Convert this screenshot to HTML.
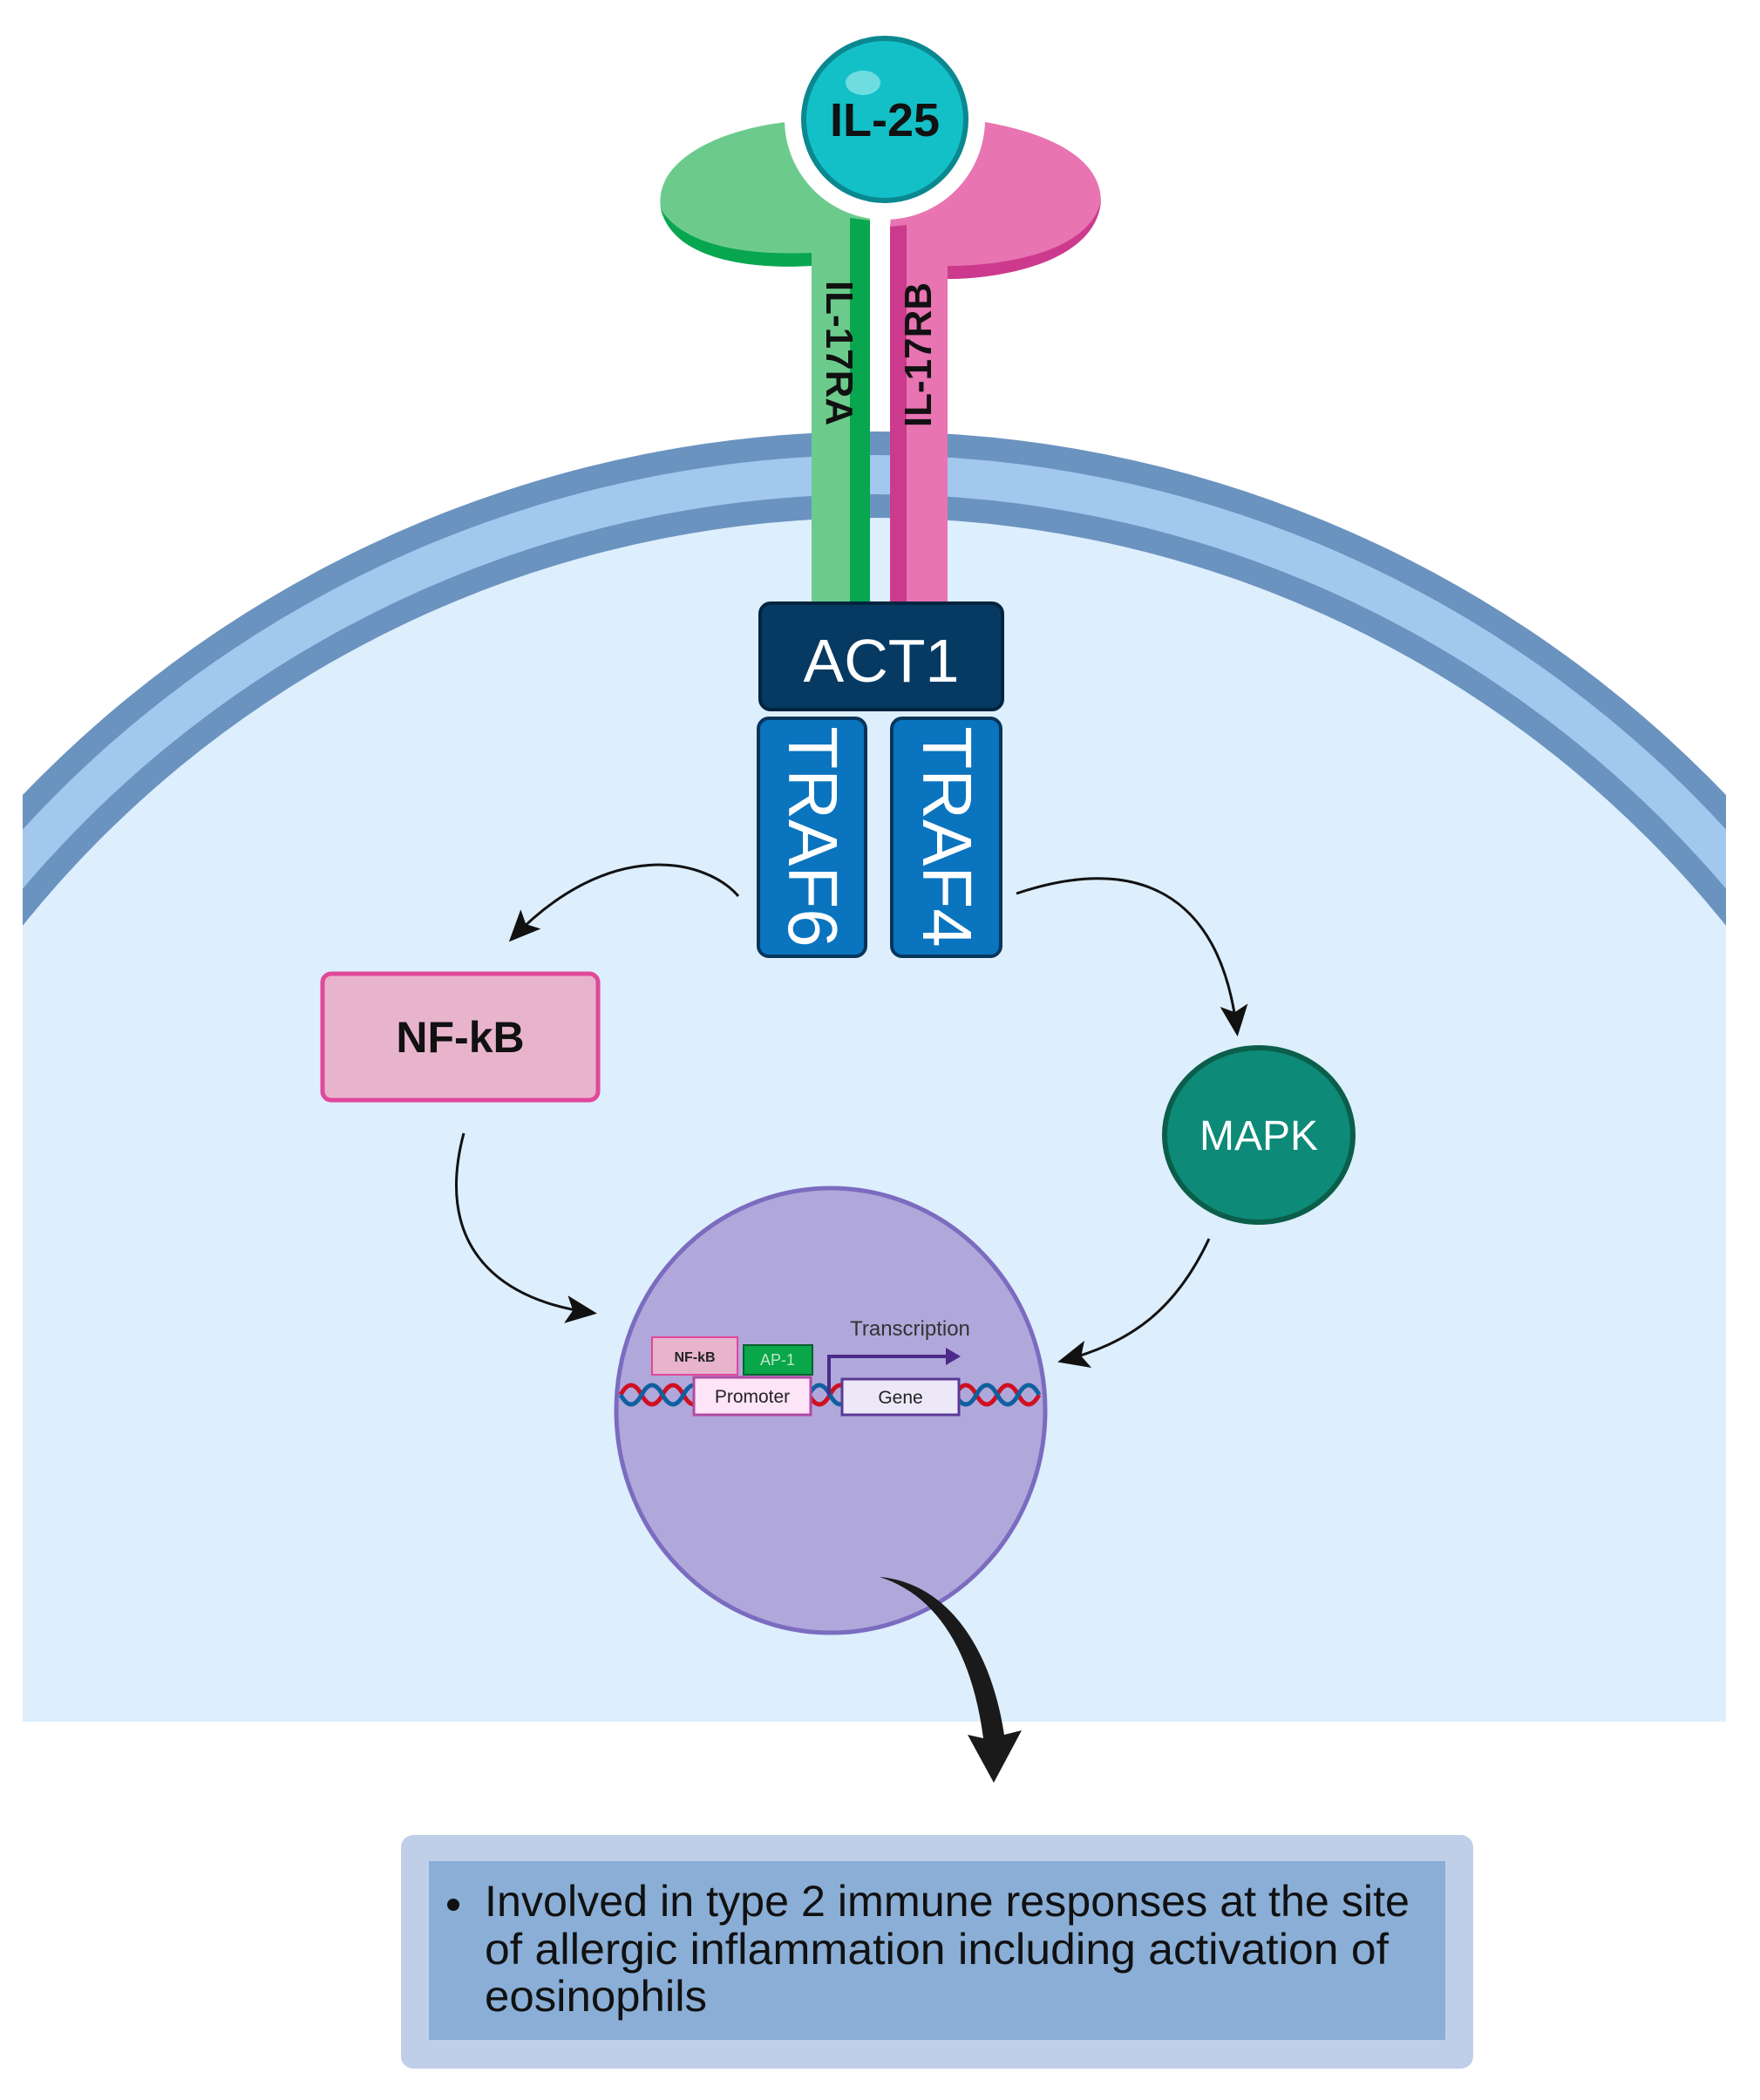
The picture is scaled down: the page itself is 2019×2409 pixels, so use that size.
<!DOCTYPE html>
<html><head><meta charset="utf-8"><style>html,body{margin:0;padding:0;background:#fff;width:2019px;height:2409px;overflow:hidden}svg{display:block}</style></head>
<body>
<svg width="2019" height="2409" viewBox="0 0 2019 2409" xmlns="http://www.w3.org/2000/svg" font-family="'Liberation Sans', sans-serif">
<defs>
<clipPath id="cell"><rect x="26" y="0" width="1954" height="1975"/></clipPath>
<marker id="ah" markerWidth="40" markerHeight="32" refX="30" refY="16" orient="auto" markerUnits="userSpaceOnUse" viewBox="0 0 40 32"><path d="M0,0 L36,16 L0,32 L8,16 Z" fill="#111"/></marker>
</defs>
<rect width="2019" height="2409" fill="#fff"/>
<g clip-path="url(#cell)">
<circle cx="1003" cy="1848" r="1353" fill="#6b93c0"/>
<circle cx="1003" cy="1848" r="1326" fill="#a3c8ee"/>
<circle cx="1003" cy="1848" r="1281" fill="#6b93c0"/>
<circle cx="1003" cy="1848" r="1254" fill="#ddeefc"/>
<rect x="26" y="1300" width="1974" height="700" fill="#ddeefc"/>
</g>
<!-- receptors -->
<path d="M931,690 L931,305 C880,308 775,305 758,240 C748,175 850,140 930,138 L990,140 L998,253 L998,690 Z" fill="#6ccb8c"/>
<path d="M975,250 L998,253 L998,690 L975,690 Z" fill="#09a650"/>
<path d="M758,240 C775,305 880,308 931,305 L931,290 C880,292 790,290 758,240 Z" fill="#09a650"/>
<path d="M1087,690 L1087,320 C1150,320 1258,300 1263,230 C1262,165 1160,142 1100,136 L1030,140 L1021,260 L1021,690 Z" fill="#e874b2"/>
<path d="M1021,260 L1040,258 L1040,690 L1021,690 Z" fill="#cc3a8e"/>
<path d="M1263,230 C1258,300 1150,320 1087,320 L1087,305 C1150,305 1250,290 1263,230 Z" fill="#cc3a8e"/>
<circle cx="1015" cy="137" r="115" fill="#fff"/>
<circle cx="1015" cy="137" r="93" fill="#14c0c8" stroke="#0a8890" stroke-width="6"/>
<ellipse cx="990" cy="95" rx="20" ry="14" fill="#6fdde0"/>
<text x="1015" y="156" font-size="54" font-weight="bold" text-anchor="middle" fill="#111">IL-25</text>
<text transform="translate(948,405) rotate(90)" font-size="44" font-weight="bold" text-anchor="middle" fill="#111">IL-17RA</text>
<text transform="translate(1068,407) rotate(-90)" font-size="44" font-weight="bold" text-anchor="middle" fill="#111">IL-17RB</text>
<!-- ACT1 / TRAF -->
<rect x="872" y="692" width="278" height="122" rx="12" fill="#063a63" stroke="#02243f" stroke-width="4"/>
<text x="1011" y="782" font-size="70" text-anchor="middle" fill="#fff">ACT1</text>
<rect x="870" y="824" width="123" height="273" rx="12" fill="#0a74bf" stroke="#07355c" stroke-width="4"/>
<rect x="1023" y="824" width="125" height="273" rx="12" fill="#0a74bf" stroke="#07355c" stroke-width="4"/>
<text transform="translate(905,960) rotate(90)" font-size="80" text-anchor="middle" fill="#fff">TRAF6</text>
<text transform="translate(1059,960) rotate(90)" font-size="80" text-anchor="middle" fill="#fff">TRAF4</text>
<!-- arrows -->
<path d="M847,1028 C810,985 700,960 588,1076" fill="none" stroke="#111" stroke-width="3" marker-end="url(#ah)"/>
<path d="M1166,1025 C1300,980 1400,1020 1419,1183" fill="none" stroke="#111" stroke-width="3" marker-end="url(#ah)"/>
<path d="M532,1300 C500,1420 560,1490 679,1506" fill="none" stroke="#111" stroke-width="3" marker-end="url(#ah)"/>
<path d="M1387,1421 C1350,1500 1300,1540 1219,1561" fill="none" stroke="#111" stroke-width="3" marker-end="url(#ah)"/>
<!-- NF-kB -->
<rect x="370" y="1117" width="316" height="145" rx="10" fill="#e8b4cc" stroke="#e0489a" stroke-width="5"/>
<text x="528" y="1207" font-size="50" font-weight="bold" text-anchor="middle" fill="#111">NF-kB</text>
<!-- MAPK -->
<ellipse cx="1444" cy="1302" rx="108" ry="100" fill="#0d8a78" stroke="#0b5e4a" stroke-width="6"/>
<text x="1444" y="1319" font-size="48" text-anchor="middle" fill="#fff">MAPK</text>
<!-- nucleus -->
<ellipse cx="953" cy="1618" rx="246" ry="255" fill="#b0a8da" stroke="#7b6cc0" stroke-width="5"/>
<path d="M712,1600 q12,-22 24,0 t24,0 t24,0 t24,0 t24,0 t24,0 t24,0 t24,0 t24,0 t24,0 t24,0 t24,0 t24,0 t24,0 t24,0 t24,0 t24,0 t24,0 t24,0 t24,0" fill="none" stroke="#d01020" stroke-width="5"/>
<path d="M712,1600 q12,22 24,0 t24,0 t24,0 t24,0 t24,0 t24,0 t24,0 t24,0 t24,0 t24,0 t24,0 t24,0 t24,0 t24,0 t24,0 t24,0 t24,0 t24,0 t24,0 t24,0" fill="none" stroke="#1060a0" stroke-width="5"/>
<rect x="748" y="1534" width="98" height="43" fill="#e8b4cc" stroke="#e0489a" stroke-width="2"/>
<text x="797" y="1562" font-size="16" font-weight="bold" text-anchor="middle" fill="#222">NF-kB</text>
<rect x="853" y="1543" width="79" height="34" fill="#0aa64a" stroke="#0a6030" stroke-width="2"/>
<text x="892" y="1566" font-size="18" text-anchor="middle" fill="#bfe8c8">AP-1</text>
<rect x="796" y="1580" width="134" height="43" fill="#fde4f7" stroke="#b04aa0" stroke-width="3"/>
<text x="863" y="1609" font-size="21" text-anchor="middle" fill="#222">Promoter</text>
<rect x="966" y="1582" width="134" height="41" fill="#ece8f8" stroke="#5b3a96" stroke-width="3"/>
<text x="1033" y="1610" font-size="21" text-anchor="middle" fill="#222">Gene</text>
<path d="M951,1600 L951,1556 L1088,1556" fill="none" stroke="#4b2a8a" stroke-width="4"/>
<path d="M1085,1546 L1102,1556 L1085,1566 Z" fill="#4b2a8a"/>
<text x="1044" y="1532" font-size="24" text-anchor="middle" fill="#333">Transcription</text>
<!-- big arrow -->
<path d="M1009,1809 C1080,1815 1135,1880 1152,1990 L1172,1985 L1140,2045 L1110,1990 L1128,1994 C1115,1895 1075,1830 1009,1809 Z" fill="#1a1a1a"/>
<!-- bottom box -->
<rect x="460" y="2105" width="1230" height="268" rx="14" fill="#c0cfe8"/>
<rect x="492" y="2135" width="1166" height="205" fill="#8aaed6"/>
<circle cx="520" cy="2185" r="7" fill="#111"/>
<g font-size="50" fill="#111">
<text x="556" y="2198" textLength="1061" lengthAdjust="spacingAndGlyphs">Involved in type 2 immune responses at the site</text>
<text x="556" y="2253" textLength="1037" lengthAdjust="spacingAndGlyphs">of allergic inflammation including activation of</text>
<text x="556" y="2307" textLength="255" lengthAdjust="spacingAndGlyphs">eosinophils</text>
</g>
</svg>
</body></html>
